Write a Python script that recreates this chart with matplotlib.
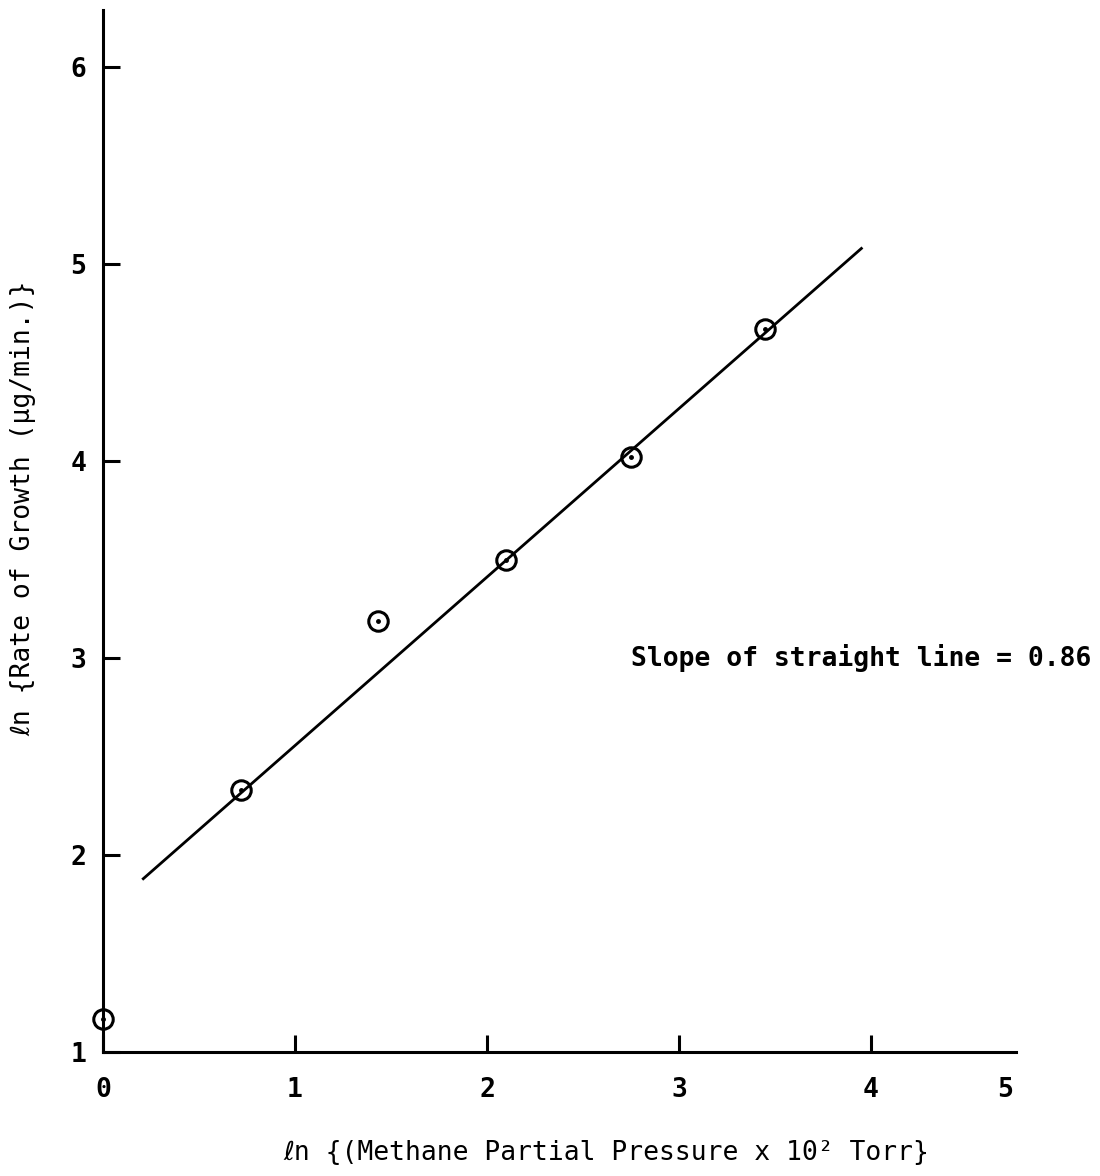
import matplotlib
matplotlib.use("Agg")
import matplotlib.pyplot as plt

# data
ln_pressure = [0.0, 0.72, 1.43, 2.10, 2.75, 3.45]
ln_rate = [1.17, 2.33, 3.19, 3.50, 4.02, 4.67]
fit_x = [0.21, 3.95]
fit_y = [1.88, 5.08]
x_ticks = [0, 1, 2, 3, 4]
y_ticks = [1, 2, 3, 4, 5, 6]

plt.rcParams['font.family'] = ['DejaVu Sans Mono', 'DejaVu Sans']
plt.rcParams['font.weight'] = 'bold'
plt.rcParams['axes.labelweight'] = 'normal'

FS = 19
fig = plt.figure(figsize=(11, 11.76), dpi=100)
ax = fig.add_axes([0.0936, 0.1054, 0.830, 0.886])

ax.plot(fit_x, fit_y, color='black', lw=2.0)
ax.plot(ln_pressure, ln_rate, linestyle='none', marker='o', ms=14,
        mfc='none', mec='black', mew=2.2, clip_on=False)
ax.plot(ln_pressure, ln_rate, linestyle='none', marker='o', ms=2.5,
        color='black', clip_on=False)

ax.set_xlim(0, 4.755)
ax.set_ylim(1, 6.29)
ax.set_xticks(x_ticks)
ax.set_yticks(y_ticks)
ax.set_xticklabels([str(v) for v in x_ticks])
ax.set_yticklabels([str(v) for v in y_ticks])
ax.tick_params(direction='in', length=12, width=2.2, labelsize=FS)
ax.tick_params(axis='y', pad=12)
ax.tick_params(axis='x', pad=18)
ax.text(4.7, -0.0235, '5', transform=ax.get_xaxis_transform(),
        ha='center', va='top', fontsize=FS)

for s in ['top', 'right']:
    ax.spines[s].set_visible(False)
for s in ['left', 'bottom']:
    ax.spines[s].set_linewidth(2.2)

ax.text(2.75, 3.0, 'Slope of straight line = 0.86', fontsize=FS, va='center')

ax.set_ylabel('ℓn {Rate of Growth (μg/min.)}', fontsize=FS, fontweight='normal')
ax.set_xlabel('ℓn {(Methane Partial Pressure x 10² Torr}', fontsize=FS, fontweight='normal')
ax.yaxis.set_label_coords(-0.073, 0.522)
ax.xaxis.set_label_coords(0.551, -0.084)

fig.savefig('out.png', dpi=100, facecolor='white')
